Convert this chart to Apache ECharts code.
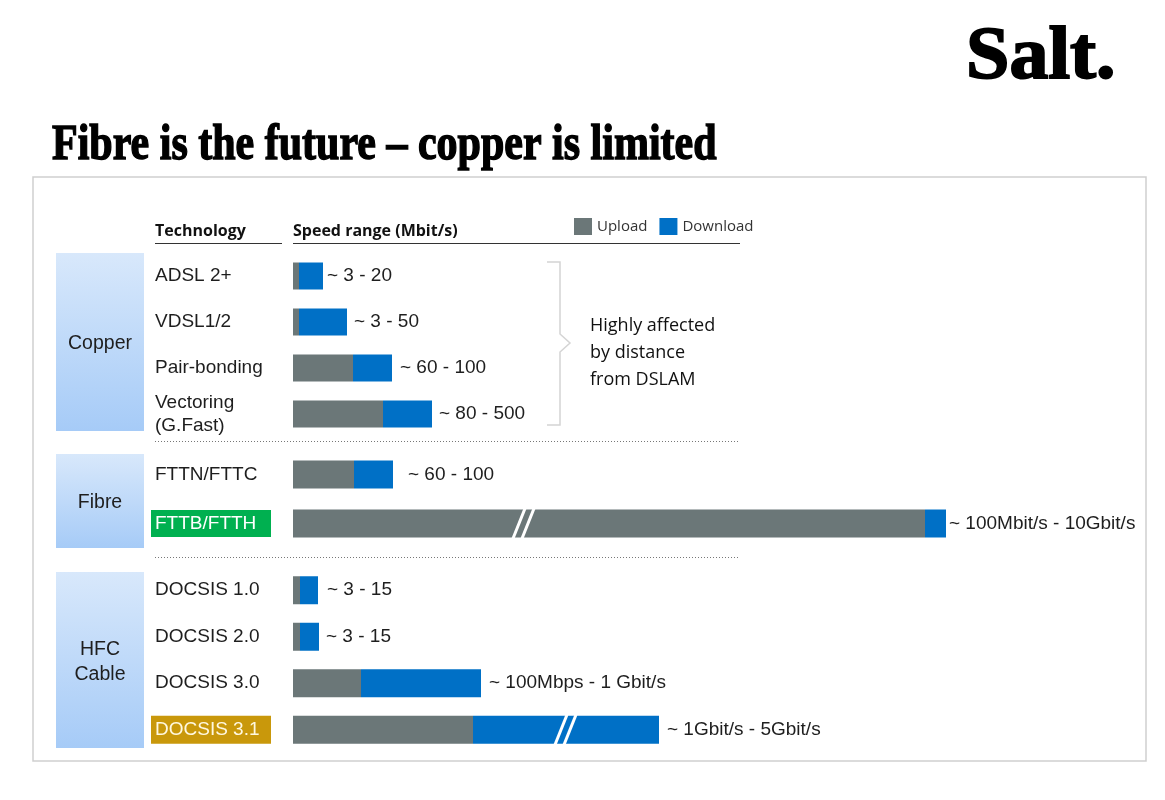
<!DOCTYPE html>
<html>
<head>
<meta charset="UTF-8">
<title>Fibre is the future</title>
<script src="https://cdn.jsdelivr.net/npm/echarts@6/dist/echarts.min.js"></script>
<style>
  html, body { margin: 0; padding: 0; background: #fff; }
  #chart { width: 1165px; height: 800px; }
</style>
</head>
<body>
<div id="chart"></div>
<script>
// ---- data (bar lengths, in px-like units) ----
const copperTech = ['ADSL 2+', 'VDSL1/2', 'Pair-bonding', 'Vectoring\n(G.Fast)'];
const copperUp = [6, 6, 60, 90];
const copperDown = [24, 48, 39, 49];
const copperRange = ['~ 3 - 20', '~ 3 - 50', '~ 60 - 100', '~ 80 - 500'];

const fibreTech = ['FTTN/FTTC', 'FTTB/FTTH'];
const fibreUp = [61, 632];
const fibreDown = [39, 21];
const fibreRange = ['~ 60 - 100', '~ 100Mbit/s - 10Gbit/s'];

const cableTech = ['DOCSIS 1.0', 'DOCSIS 2.0', 'DOCSIS 3.0', 'DOCSIS 3.1'];
const cableUp = [7, 7, 68, 180];
const cableDown = [18, 19, 120, 186];
const cableRange = ['~ 3 - 15', '~ 3 - 15', '~ 100Mbps - 1 Gbit/s', '~ 1Gbit/s - 5Gbit/s'];

// where the axis is broken ([value, row])
const fibreBreaks = [[231, 1]];
const cableBreaks = [[273, 3]];

// ---- layout ----
const GREY = '#6b7778', BLUE = '#0070c6';
const FONT = 'Liberation Sans';
const highlight = { 'FTTB/FTTH': 'g', 'DOCSIS 3.1': 'y' };
const groups = [
    { name: 'Copper', tech: copperTech, up: copperUp, down: copperDown, range: copperRange, breaks: [], top: 253, height: 184, bar: 27, gaps: [4, 7, 8, 7] },
    { name: 'Fibre', tech: fibreTech, up: fibreUp, down: fibreDown, range: fibreRange, breaks: fibreBreaks, top: 450, height: 98, bar: 28, gaps: [15, 3] },
    { name: 'HFC\nCable', tech: cableTech, up: cableUp, down: cableDown, range: cableRange, breaks: cableBreaks, top: 567, height: 186, bar: 28, gaps: [9, 7, 8, 8] }
];
const boxes = [[253, 178], [454, 94], [572, 176]];

function techLabel(name) {
    let k = highlight[name] || 'n';
    return name.split('\n').map(s => '{' + k + '|' + s + '}').join('\n');
}

let grid = [], xAxis = [], yAxis = [], series = [];
groups.forEach(function (g, i) {
    grid.push({ left: 293, width: 653, top: g.top, height: g.height });
    xAxis.push({ type: 'value', gridIndex: i, min: 0, max: 653, show: false });
    yAxis.push({
        type: 'category', gridIndex: i, data: g.tech, inverse: true,
        axisLine: { show: false }, axisTick: { show: false }, splitLine: { show: false },
        axisLabel: {
            align: 'left', margin: 142, formatter: techLabel,
            rich: {
                n: { fontFamily: FONT, fontSize: 19, color: '#1e1e1e', lineHeight: 23, padding: [0, 0, 0, 4] },
                g: { fontFamily: FONT, fontSize: 19, color: '#fff', lineHeight: 20, backgroundColor: '#00b050', width: 112, padding: [4, 4, 4, 4] },
                y: { fontFamily: FONT, fontSize: 19, color: '#fff8e0', lineHeight: 22, backgroundColor: '#c9980b', width: 112, padding: [5, 4, 4, 4] }
            }
        }
    });
    series.push({
        name: 'Upload', type: 'bar', stack: 's' + i, xAxisIndex: i, yAxisIndex: i,
        barWidth: g.bar, itemStyle: { color: GREY }, data: g.up, silent: true
    });
    series.push({
        name: 'Download', type: 'bar', stack: 's' + i, xAxisIndex: i, yAxisIndex: i,
        barWidth: g.bar, itemStyle: { color: BLUE }, silent: true,
        data: g.down.map((v, j) => ({ value: v, label: { distance: g.gaps[j] } })),
        label: {
            show: true, position: 'right', fontFamily: FONT, fontSize: 19, color: '#1e1e1e',
            formatter: p => g.range[p.dataIndex]
        }
    });
    if (g.breaks.length) {
        series.push({
            type: 'custom', xAxisIndex: i, yAxisIndex: i, data: g.breaks, silent: true, z: 5,
            renderItem: function (params, api) {
                let p = api.coord([api.value(0), api.value(1)]);
                let h = g.bar / 2 + 1;
                let st = { stroke: '#fff', lineWidth: 3 };
                return {
                    type: 'group', children: [
                        { type: 'line', shape: { x1: p[0] - 11, y1: p[1] + h, x2: p[0] + 1, y2: p[1] - h }, style: st },
                        { type: 'line', shape: { x1: p[0] - 2, y1: p[1] + h, x2: p[0] + 10, y2: p[1] - h }, style: st }
                    ]
                };
            }
        });
    }
});

let graphic = [
    { type: 'rect', shape: { x: 33, y: 177, width: 1113, height: 584 }, style: { fill: 'none', stroke: '#cfcfcf', lineWidth: 1.5 } },
    { type: 'text', x: 52, y: 171, scaleY: 1.2, style: { x: 0, y: 0, text: 'Fibre is the future – copper is limited', font: 'bold 42px "Liberation Serif"', fill: '#000', stroke: '#000', lineWidth: 1.2, textVerticalAlign: 'bottom' } },
    { type: 'text', x: 966, y: 96, scaleY: 0.95, style: { x: 0, y: 0, text: 'Salt.', font: 'bold 78px "Liberation Serif"', fill: '#000', stroke: '#000', lineWidth: 2, textVerticalAlign: 'bottom' } },
    { type: 'text', style: { x: 155, y: 231, text: 'Technology', font: 'bold 16px "Open Sans"', fill: '#111', textVerticalAlign: 'middle' } },
    { type: 'text', style: { x: 293, y: 231, text: 'Speed range (Mbit/s)', font: 'bold 16px "Open Sans"', fill: '#111', textVerticalAlign: 'middle' } },
    { type: 'line', shape: { x1: 155, y1: 243.5, x2: 282, y2: 243.5 }, style: { stroke: '#333', lineWidth: 1 } },
    { type: 'line', shape: { x1: 293, y1: 243.5, x2: 740, y2: 243.5 }, style: { stroke: '#333', lineWidth: 1 } },
    { type: 'line', shape: { x1: 155, y1: 441.5, x2: 740, y2: 441.5 }, style: { stroke: '#777', lineWidth: 1, lineDash: [1, 2] } },
    { type: 'line', shape: { x1: 155, y1: 557.5, x2: 740, y2: 557.5 }, style: { stroke: '#777', lineWidth: 1, lineDash: [1, 2] } },
    { type: 'polyline', shape: { points: [[547, 262], [560, 262], [560, 334], [570, 343], [560, 352], [560, 425], [547, 425]] }, style: { fill: 'none', stroke: '#d4d4d4', lineWidth: 1.5 } },
    { type: 'text', style: { x: 590, y: 326, text: 'Highly affected\nby distance\nfrom DSLAM', font: '18px "Open Sans"', fill: '#111', lineHeight: 27, textVerticalAlign: 'middle' }, y: 27 }
];
boxes.forEach(function (b, i) {
    graphic.push({
        type: 'rect', shape: { x: 56, y: b[0], width: 88, height: b[1] },
        style: { fill: new echarts.graphic.LinearGradient(0, 0, 0, 1, [{ offset: 0, color: '#d8e8fb' }, { offset: 1, color: '#a6cbf7' }]) }
    });
    graphic.push({
        type: 'text', style: {
            x: 100, y: b[0] + b[1] / 2 + 2, text: groups[i].name, font: '19.5px "' + FONT + '"', fill: '#1e1e1e',
            textAlign: 'center', textVerticalAlign: 'middle', lineHeight: 25
        }
    });
});

const chart = echarts.init(document.getElementById('chart'));
chart.setOption({
    animation: false,
    backgroundColor: '#fff',
    legend: {
        left: 569, top: 213, itemWidth: 18, itemHeight: 17, itemGap: 12, icon: 'rect', selectedMode: false,
        data: ['Upload', 'Download'],
        textStyle: { fontFamily: 'Open Sans', fontSize: 15, color: '#333' }
    },
    grid: grid, xAxis: xAxis, yAxis: yAxis, series: series, graphic: graphic
});
</script>
</body>
</html>
